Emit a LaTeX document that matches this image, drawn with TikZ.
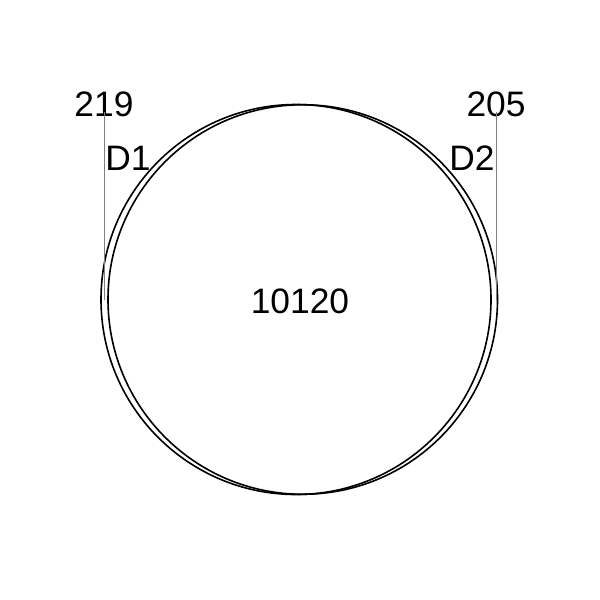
\documentclass[tikz,border=0pt]{standalone}
\usepackage{fontspec}
\setmainfont{Liberation Sans}
\begin{document}
\begin{tikzpicture}[x=1bp,y=-1bp,
  setc/.style={draw=black,line width=1.6bp,circle,minimum size=#1,inner sep=0pt},
  lbl/.style={font=\fontsize{35.5}{40}\selectfont,inner sep=0pt,anchor=base},
  lead/.style={draw=gray,line width=1bp}]
\useasboundingbox (0,0) rectangle (600,600);
\node[setc=390bp] (c1) at (296,299.5) {};
\node[setc=389.5bp] (c2) at (302.75,299.5) {};
\node[lbl] (n1) at (104,117) {219};
\node[lbl] (n2) at (496,117) {205};
\node[lbl] (d1) at (128,171) {D1};
\node[lbl] (d2) at (472,171) {D2};
\node[lbl] (n12) at (300,313) {10120};
\coordinate (t1) at (104,112);
\coordinate (b1) at (104,300);
\coordinate (t2) at (496,112);
\coordinate (b2) at (496,300);
\draw[lead] (t1) -- (b1);
\draw[lead] (t2) -- (b2);
\end{tikzpicture}
\end{document}
